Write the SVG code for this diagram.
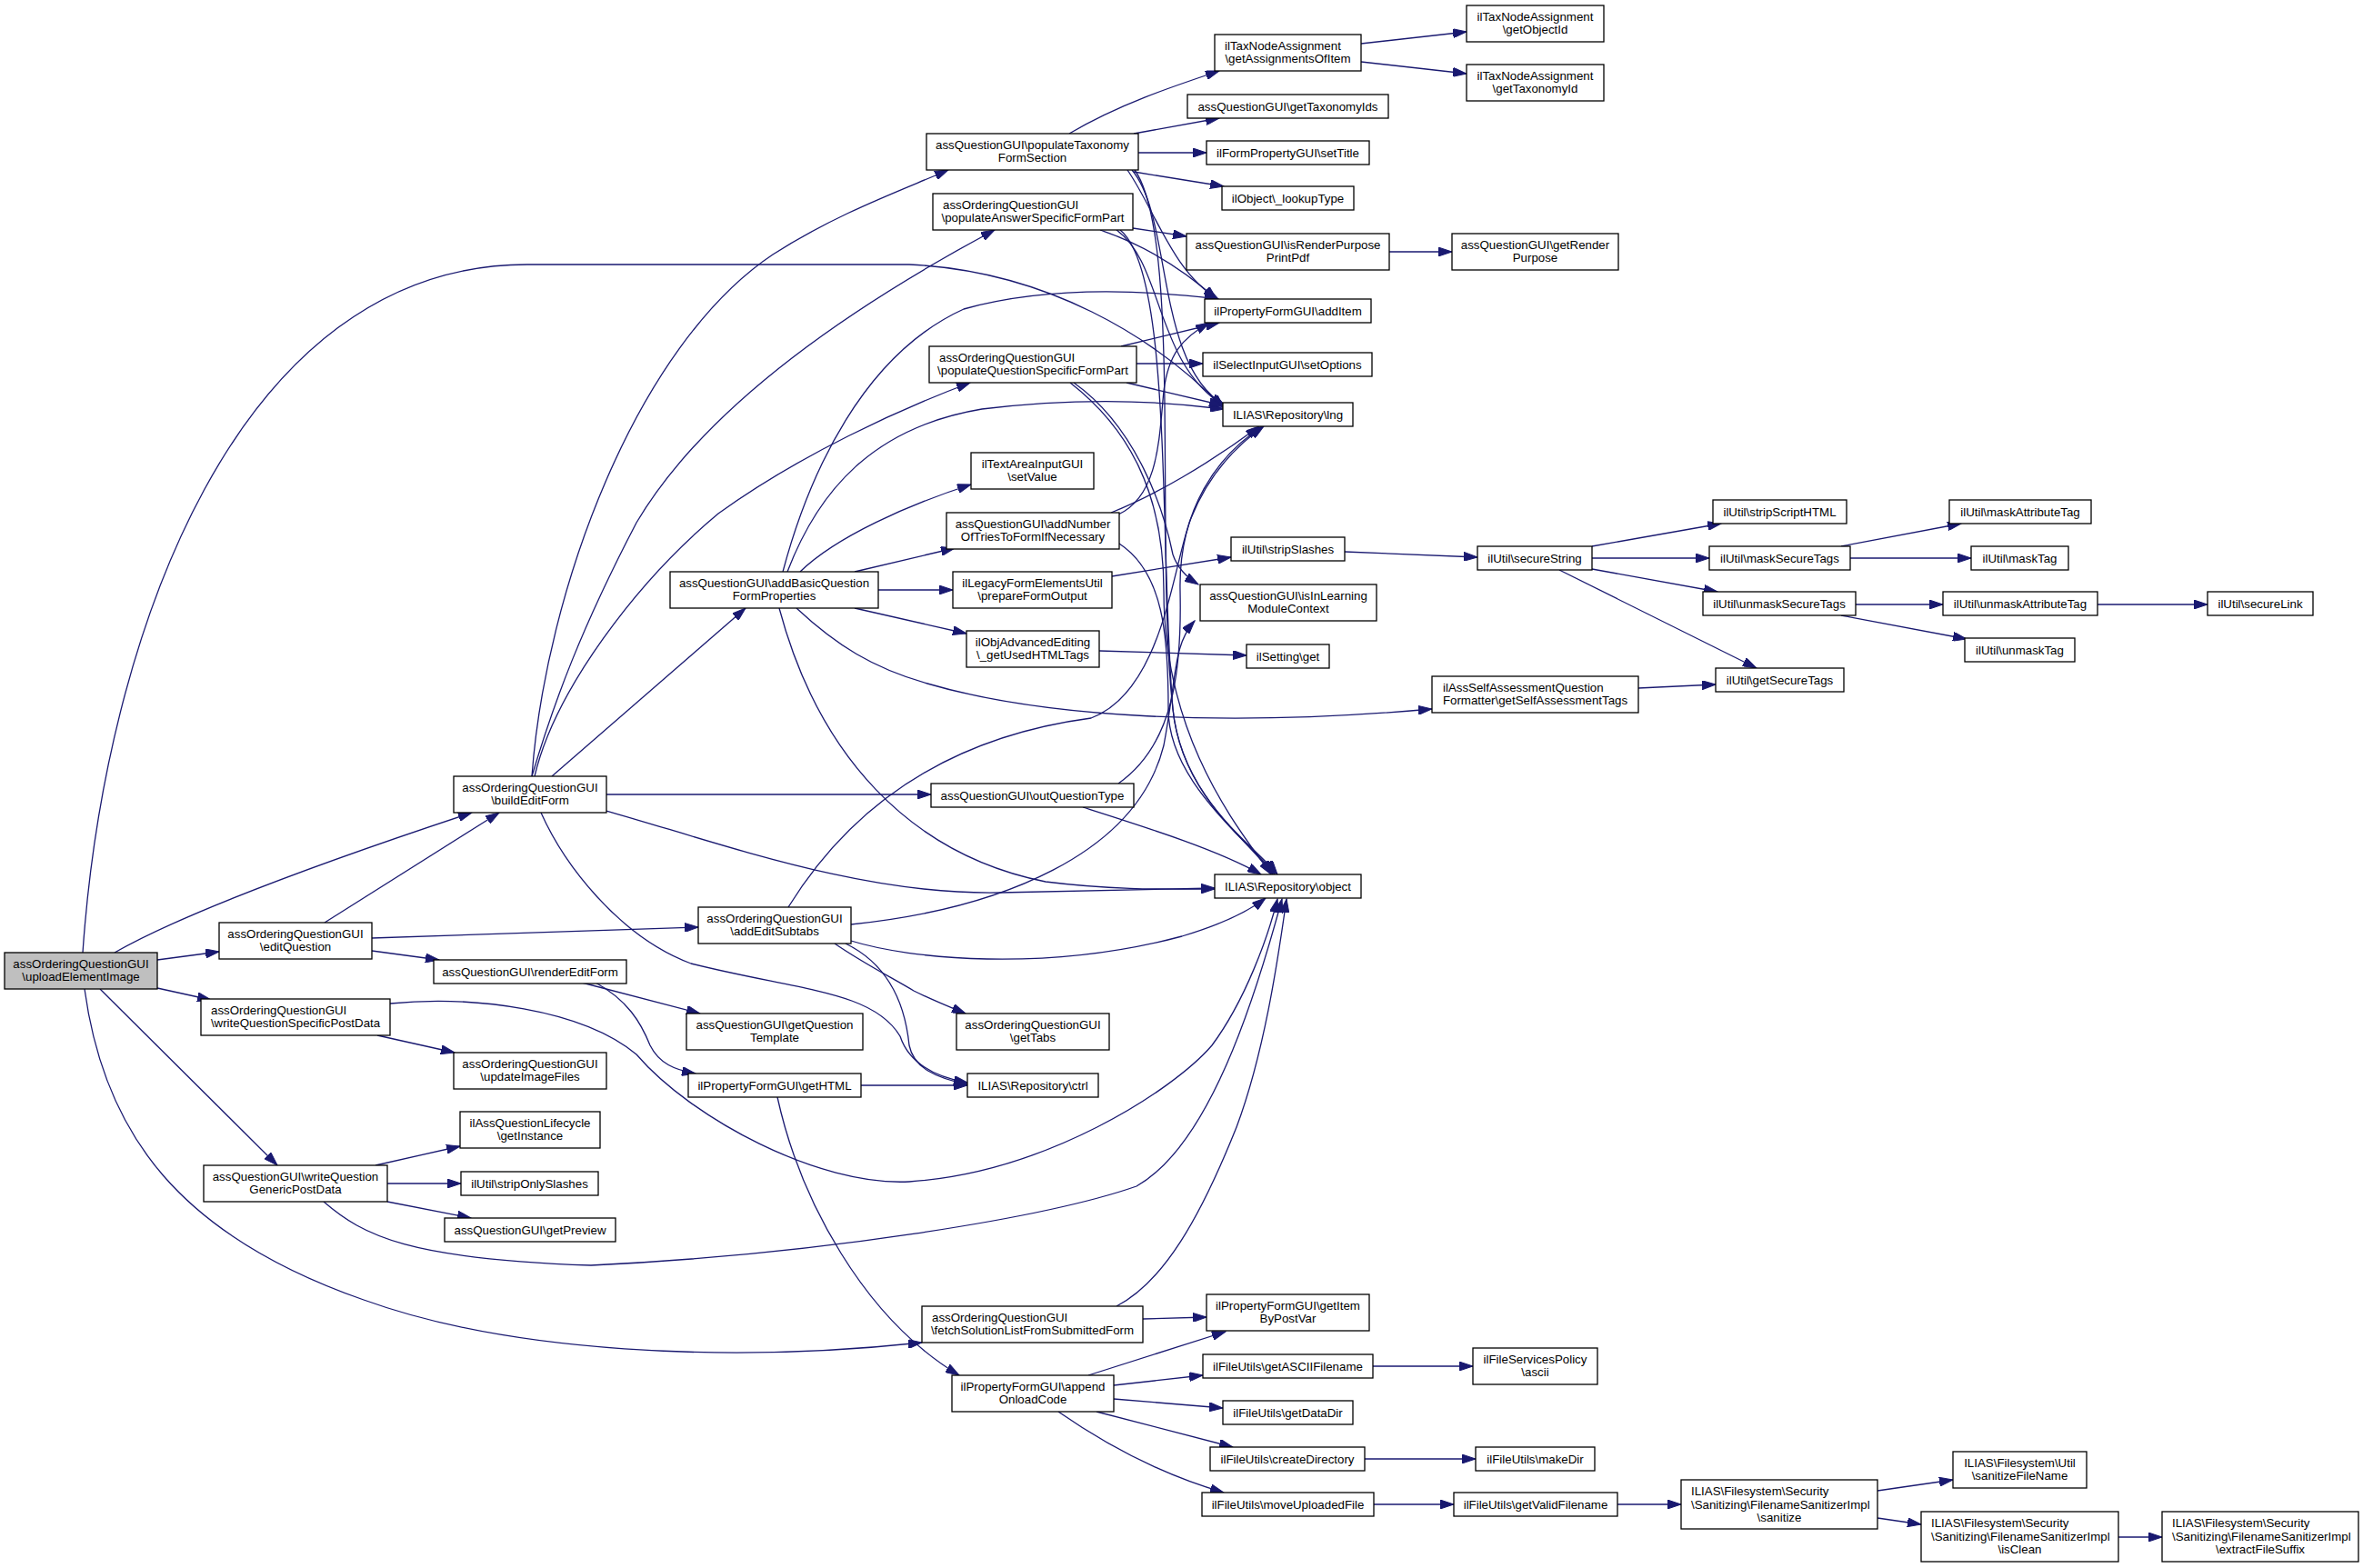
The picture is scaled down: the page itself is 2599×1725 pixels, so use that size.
<svg xmlns="http://www.w3.org/2000/svg" width="2599" height="1725" viewBox="0 0 2599 1725">
<defs>
<marker id="ah" markerUnits="userSpaceOnUse" markerWidth="16" markerHeight="10" refX="15" refY="5" orient="auto"><path d="M0,0 L15,5 L0,10 z" fill="#191970" stroke="#191970" stroke-width="1"/></marker>
</defs>
<style>
.n rect{fill:#fff;stroke:#000;stroke-width:1.3}
.root rect{fill:#bfbfbf}
text{font-family:"Liberation Sans",Arial,sans-serif;font-size:13.3px;fill:#000}
.c{text-anchor:middle}
.e path{fill:none;stroke:#191970;stroke-width:1.3;marker-end:url(#ah)}
</style>
<rect x="0" y="0" width="2599" height="1725" fill="#fff"/>
<g id="edges" class="e">
<path d="M126,1048 C210,1000 380,940 519,894"/>
<path d="M173,1056 L241,1047"/>
<path d="M173,1087 L232,1100"/>
<path d="M110,1088 L305,1282"/>
<path d="M93,1088 C115,1250 200,1360 400,1430 C560,1488 800,1500 1014,1477"/>
<path d="M91,1048 C115,700 260,291 580,291 L1000,291 C1150,298 1270,370 1346,449"/>
<path d="M357,1015 L549,894"/>
<path d="M409,1032 L768,1020"/>
<path d="M409,1046 L483,1056"/>
<path d="M640,1081 L770,1115"/>
<path d="M655,1081 C690,1100 705,1125 715,1150 C725,1170 742,1177 765,1181"/>
<path d="M947,1194 L1064,1194"/>
<path d="M595,894 C620,950 680,1030 760,1060 C880,1090 960,1090 990,1140 C1000,1170 1030,1185 1064,1191"/>
<path d="M930,1038 C975,1060 995,1100 1000,1150 C1005,1175 1030,1186 1064,1193"/>
<path d="M918,1038 C950,1060 980,1075 1005,1090 C1025,1100 1045,1108 1062,1115"/>
<path d="M936,1035 C1000,1055 1150,1070 1300,1030 C1340,1018 1370,1005 1392,988"/>
<path d="M867,998 C940,880 1050,810 1200,790 C1280,760 1290,620 1310,570 C1330,520 1360,490 1390,469"/>
<path d="M936,1017 C1100,1000 1250,940 1280,820 C1295,740 1290,710 1314,683"/>
<path d="M667,874 L1024,874"/>
<path d="M667,892 C800,930 950,985 1100,982 C1200,980 1280,978 1336,977"/>
<path d="M585,854 C600,650 700,380 850,280 C920,235 990,210 1043,187"/>
<path d="M585,854 C610,770 640,690 700,575 C780,440 950,330 1094,253"/>
<path d="M588,854 C610,760 700,640 790,565 C880,500 990,450 1067,421"/>
<path d="M607,854 L820,669"/>
<path d="M861,629 C890,520 950,390 1060,340 C1150,315 1250,318 1340,329"/>
<path d="M866,629 C900,540 960,470 1080,450 C1180,438 1270,440 1346,450"/>
<path d="M880,629 C920,590 1000,555 1068,533"/>
<path d="M940,629 L1050,603"/>
<path d="M966,649 L1048,649"/>
<path d="M940,669 L1063,697"/>
<path d="M876,669 C920,710 960,735 1020,752 C1150,790 1350,800 1575,780"/>
<path d="M857,669 C900,830 1000,940 1150,970 C1230,980 1290,978 1336,978"/>
<path d="M1222,564 C1270,545 1330,510 1385,469"/>
<path d="M1230,566 C1275,545 1275,480 1280,430 C1285,390 1300,372 1330,355"/>
<path d="M1231,598 C1280,630 1285,700 1285,780 C1285,860 1370,920 1400,962"/>
<path d="M1176,147 C1230,115 1290,95 1341,78"/>
<path d="M1247,147 L1341,130"/>
<path d="M1252,168 L1327,168"/>
<path d="M1247,189 L1346,205"/>
<path d="M1240,187 C1270,230 1290,300 1340,329"/>
<path d="M1245,187 C1290,240 1270,400 1347,446"/>
<path d="M1248,187 C1300,260 1270,600 1290,780 C1300,880 1380,930 1405,962"/>
<path d="M1246,251 L1305,260"/>
<path d="M1210,253 C1260,270 1300,295 1338,329"/>
<path d="M1228,253 C1280,290 1270,400 1347,447"/>
<path d="M1232,253 C1290,300 1275,600 1290,780 C1300,880 1385,935 1402,962"/>
<path d="M1250,400 L1323,400"/>
<path d="M1233,381 L1341,355"/>
<path d="M1239,421 L1345,446"/>
<path d="M1177,421 C1240,470 1280,540 1280,650 C1280,820 1370,920 1398,962"/>
<path d="M1181,421 C1250,470 1280,560 1290,610 C1295,625 1305,635 1318,643"/>
<path d="M1223,634 L1354,613"/>
<path d="M1209,716 L1371,721"/>
<path d="M1191,888 C1260,910 1340,935 1387,962"/>
<path d="M1230,862 C1290,820 1300,740 1298,650 C1296,560 1340,500 1389,469"/>
<path d="M1479,607 L1625,613"/>
<path d="M1751,601 L1893,576"/>
<path d="M1751,614 L1880,614"/>
<path d="M1751,626 L1889,651"/>
<path d="M1715,627 L1932,735"/>
<path d="M1802,757 L1887,753"/>
<path d="M2025,601 L2157,576"/>
<path d="M2035,614 L2168,614"/>
<path d="M2041,665 L2137,665"/>
<path d="M2025,677 L2163,703"/>
<path d="M2307,665 L2428,665"/>
<path d="M1497,48 L1613,35"/>
<path d="M1497,68 L1613,81"/>
<path d="M1528,277 L1597,277"/>
<path d="M415,1139 L500,1158"/>
<path d="M429,1104 C520,1095 640,1110 700,1160 C760,1230 900,1305 1000,1300 C1150,1290 1290,1200 1333,1150 C1370,1100 1395,1030 1405,989"/>
<path d="M413,1282 L506,1261"/>
<path d="M426,1302 L507,1302"/>
<path d="M426,1322 L518,1340"/>
<path d="M356,1322 C400,1360 450,1385 650,1392 C900,1380 1150,1340 1250,1305 C1330,1260 1380,1100 1410,989"/>
<path d="M1228,1437 C1280,1410 1320,1340 1360,1240 C1390,1160 1405,1060 1415,989"/>
<path d="M1257,1451 L1327,1449"/>
<path d="M855,1207 C880,1320 950,1450 1055,1513"/>
<path d="M1197,1513 L1348,1465"/>
<path d="M1225,1524 L1323,1513"/>
<path d="M1225,1539 L1345,1549"/>
<path d="M1206,1553 L1356,1592"/>
<path d="M1164,1553 C1210,1585 1270,1620 1346,1642"/>
<path d="M1510,1503 L1620,1503"/>
<path d="M1501,1605 L1623,1605"/>
<path d="M1511,1655 L1599,1655"/>
<path d="M1779,1655 L1849,1655"/>
<path d="M2065,1640 L2148,1628"/>
<path d="M2065,1670 L2113,1677"/>
<path d="M2330,1691 L2378,1691"/>
</g>
<g id="n_main" class="n root"><rect x="5" y="1048" width="168" height="40"/><text class="c" x="89" y="1064.5">assOrderingQuestionGUI</text><text class="c" x="89" y="1079">\uploadElementImage</text></g>
<g id="n_editQuestion" class="n"><rect x="241" y="1015" width="168" height="40"/><text class="c" x="325" y="1031.5">assOrderingQuestionGUI</text><text class="c" x="325" y="1046">\editQuestion</text></g>
<g id="n_buildEditForm" class="n"><rect x="499" y="854" width="168" height="40"/><text class="c" x="583" y="870.5">assOrderingQuestionGUI</text><text class="c" x="583" y="885">\buildEditForm</text></g>
<g id="n_writeSpecific" class="n"><rect x="221" y="1099" width="208" height="40"/><text x="232" y="1115.5">assOrderingQuestionGUI</text><text class="c" x="325" y="1130">\writeQuestionSpecificPostData</text></g>
<g id="n_writeGeneric" class="n"><rect x="224" y="1282" width="202" height="40"/><text class="c" x="325" y="1298.5">assQuestionGUI\writeQuestion</text><text class="c" x="325" y="1313">GenericPostData</text></g>
<g id="n_updateImageFiles" class="n"><rect x="499" y="1158" width="168" height="40"/><text class="c" x="583" y="1174.5">assOrderingQuestionGUI</text><text class="c" x="583" y="1189">\updateImageFiles</text></g>
<g id="n_getInstance" class="n"><rect x="506" y="1223" width="154" height="40"/><text class="c" x="583" y="1239.5">ilAssQuestionLifecycle</text><text class="c" x="583" y="1254">\getInstance</text></g>
<g id="n_stripOnlySlashes" class="n"><rect x="507" y="1289" width="151" height="26"/><text class="c" x="582.5" y="1306.5">ilUtil\stripOnlySlashes</text></g>
<g id="n_getPreview" class="n"><rect x="489" y="1340" width="188" height="26"/><text class="c" x="583" y="1357.5">assQuestionGUI\getPreview</text></g>
<g id="n_renderEditForm" class="n"><rect x="477" y="1056" width="212" height="26"/><text class="c" x="583" y="1073.5">assQuestionGUI\renderEditForm</text></g>
<g id="n_getQuestionTemplate" class="n"><rect x="755" y="1115" width="194" height="40"/><text class="c" x="852" y="1131.5">assQuestionGUI\getQuestion</text><text class="c" x="852" y="1146">Template</text></g>
<g id="n_getTabs" class="n"><rect x="1052" y="1115" width="168" height="40"/><text class="c" x="1136" y="1131.5">assOrderingQuestionGUI</text><text class="c" x="1136" y="1146">\getTabs</text></g>
<g id="n_getHTML" class="n"><rect x="757" y="1181" width="190" height="26"/><text class="c" x="852" y="1198.5">ilPropertyFormGUI\getHTML</text></g>
<g id="n_ctrl" class="n"><rect x="1064" y="1181" width="144" height="26"/><text class="c" x="1136" y="1198.5">ILIAS\Repository\ctrl</text></g>
<g id="n_addEditSubtabs" class="n"><rect x="768" y="998" width="168" height="40"/><text class="c" x="852" y="1014.5">assOrderingQuestionGUI</text><text class="c" x="852" y="1029">\addEditSubtabs</text></g>
<g id="n_outQuestionType" class="n"><rect x="1024" y="862" width="223" height="26"/><text class="c" x="1135.5" y="879.5">assQuestionGUI\outQuestionType</text></g>
<g id="n_addBasic" class="n"><rect x="737" y="629" width="229" height="40"/><text class="c" x="851.5" y="645.5">assQuestionGUI\addBasicQuestion</text><text class="c" x="851.5" y="660">FormProperties</text></g>
<g id="n_prepareFormOutput" class="n"><rect x="1048" y="629" width="175" height="40"/><text class="c" x="1135.5" y="645.5">ilLegacyFormElementsUtil</text><text class="c" x="1135.5" y="660">\prepareFormOutput</text></g>
<g id="n_getUsedHTMLTags" class="n"><rect x="1063" y="694" width="146" height="40"/><text class="c" x="1136" y="710.5">ilObjAdvancedEditing</text><text class="c" x="1136" y="725">\_getUsedHTMLTags</text></g>
<g id="n_addNumberOfTries" class="n"><rect x="1041" y="564" width="190" height="40"/><text class="c" x="1136" y="580.5">assQuestionGUI\addNumber</text><text class="c" x="1136" y="595">OfTriesToFormIfNecessary</text></g>
<g id="n_setValue" class="n"><rect x="1068" y="498" width="135" height="40"/><text class="c" x="1135.5" y="514.5">ilTextAreaInputGUI</text><text class="c" x="1135.5" y="529">\setValue</text></g>
<g id="n_populateTaxonomy" class="n"><rect x="1019" y="147" width="233" height="40"/><text class="c" x="1135.5" y="163.5">assQuestionGUI\populateTaxonomy</text><text class="c" x="1135.5" y="178">FormSection</text></g>
<g id="n_populateAnswer" class="n"><rect x="1026" y="213" width="220" height="40"/><text x="1037" y="229.5">assOrderingQuestionGUI</text><text class="c" x="1136" y="244">\populateAnswerSpecificFormPart</text></g>
<g id="n_populateQuestion" class="n"><rect x="1022" y="381" width="228" height="40"/><text x="1033" y="397.5">assOrderingQuestionGUI</text><text class="c" x="1136" y="412">\populateQuestionSpecificFormPart</text></g>
<g id="n_getAssignmentsOfItem" class="n"><rect x="1336" y="38" width="161" height="40"/><text x="1347" y="54.5">ilTaxNodeAssignment</text><text class="c" x="1416.5" y="69">\getAssignmentsOfItem</text></g>
<g id="n_getObjectId" class="n"><rect x="1613" y="6" width="151" height="40"/><text class="c" x="1688.5" y="22.5">ilTaxNodeAssignment</text><text class="c" x="1688.5" y="37">\getObjectId</text></g>
<g id="n_getTaxonomyId" class="n"><rect x="1613" y="71" width="151" height="40"/><text class="c" x="1688.5" y="87.5">ilTaxNodeAssignment</text><text class="c" x="1688.5" y="102">\getTaxonomyId</text></g>
<g id="n_getTaxonomyIds" class="n"><rect x="1306" y="104" width="221" height="26"/><text class="c" x="1416.5" y="121.5">assQuestionGUI\getTaxonomyIds</text></g>
<g id="n_setTitle" class="n"><rect x="1327" y="155" width="179" height="26"/><text class="c" x="1416.5" y="172.5">ilFormPropertyGUI\setTitle</text></g>
<g id="n_lookupType" class="n"><rect x="1344" y="205" width="145" height="26"/><text class="c" x="1416.5" y="222.5">ilObject\_lookupType</text></g>
<g id="n_isRenderPurpose" class="n"><rect x="1305" y="257" width="223" height="40"/><text class="c" x="1416.5" y="273.5">assQuestionGUI\isRenderPurpose</text><text class="c" x="1416.5" y="288">PrintPdf</text></g>
<g id="n_getRenderPurpose" class="n"><rect x="1597" y="257" width="183" height="40"/><text class="c" x="1688.5" y="273.5">assQuestionGUI\getRender</text><text class="c" x="1688.5" y="288">Purpose</text></g>
<g id="n_addItem" class="n"><rect x="1325" y="329" width="183" height="26"/><text class="c" x="1416.5" y="346.5">ilPropertyFormGUI\addItem</text></g>
<g id="n_setOptions" class="n"><rect x="1323" y="388" width="186" height="26"/><text class="c" x="1416" y="405.5">ilSelectInputGUI\setOptions</text></g>
<g id="n_lng" class="n"><rect x="1345" y="443" width="143" height="26"/><text class="c" x="1416.5" y="460.5">ILIAS\Repository\lng</text></g>
<g id="n_stripSlashes" class="n"><rect x="1354" y="591" width="125" height="26"/><text class="c" x="1416.5" y="608.5">ilUtil\stripSlashes</text></g>
<g id="n_isInLearning" class="n"><rect x="1320" y="643" width="194" height="40"/><text class="c" x="1417" y="659.5">assQuestionGUI\isInLearning</text><text class="c" x="1417" y="674">ModuleContext</text></g>
<g id="n_ilSettingGet" class="n"><rect x="1371" y="709" width="91" height="26"/><text class="c" x="1416.5" y="726.5">ilSetting\get</text></g>
<g id="n_secureString" class="n"><rect x="1625" y="601" width="126" height="26"/><text class="c" x="1688" y="618.5">ilUtil\secureString</text></g>
<g id="n_getSelfAssessmentTags" class="n"><rect x="1575" y="744" width="227" height="40"/><text x="1587" y="760.5">ilAssSelfAssessmentQuestion</text><text class="c" x="1688.5" y="775">Formatter\getSelfAssessmentTags</text></g>
<g id="n_object" class="n"><rect x="1336" y="962" width="161" height="26"/><text class="c" x="1416.5" y="979.5">ILIAS\Repository\object</text></g>
<g id="n_stripScriptHTML" class="n"><rect x="1884" y="550" width="147" height="26"/><text class="c" x="1957.5" y="567.5">ilUtil\stripScriptHTML</text></g>
<g id="n_maskAttributeTag" class="n"><rect x="2144" y="550" width="156" height="26"/><text class="c" x="2222" y="567.5">ilUtil\maskAttributeTag</text></g>
<g id="n_maskSecureTags" class="n"><rect x="1880" y="601" width="155" height="26"/><text class="c" x="1957.5" y="618.5">ilUtil\maskSecureTags</text></g>
<g id="n_maskTag" class="n"><rect x="2168" y="601" width="107" height="26"/><text class="c" x="2221.5" y="618.5">ilUtil\maskTag</text></g>
<g id="n_unmaskSecureTags" class="n"><rect x="1873" y="651" width="168" height="26"/><text class="c" x="1957" y="668.5">ilUtil\unmaskSecureTags</text></g>
<g id="n_unmaskAttributeTag" class="n"><rect x="2137" y="651" width="170" height="26"/><text class="c" x="2222" y="668.5">ilUtil\unmaskAttributeTag</text></g>
<g id="n_secureLink" class="n"><rect x="2428" y="651" width="116" height="26"/><text class="c" x="2486" y="668.5">ilUtil\secureLink</text></g>
<g id="n_unmaskTag" class="n"><rect x="2161" y="702" width="121" height="26"/><text class="c" x="2221.5" y="719.5">ilUtil\unmaskTag</text></g>
<g id="n_getSecureTags" class="n"><rect x="1887" y="735" width="141" height="26"/><text class="c" x="1957.5" y="752.5">ilUtil\getSecureTags</text></g>
<g id="n_getItemByPostVar" class="n"><rect x="1327" y="1424" width="179" height="40"/><text class="c" x="1416.5" y="1440.5">ilPropertyFormGUI\getItem</text><text class="c" x="1416.5" y="1455">ByPostVar</text></g>
<g id="n_getASCIIFilename" class="n"><rect x="1323" y="1490" width="187" height="26"/><text class="c" x="1416.5" y="1507.5">ilFileUtils\getASCIIFilename</text></g>
<g id="n_ascii" class="n"><rect x="1620" y="1483" width="137" height="40"/><text class="c" x="1688.5" y="1499.5">ilFileServicesPolicy</text><text class="c" x="1688.5" y="1514">\ascii</text></g>
<g id="n_getDataDir" class="n"><rect x="1345" y="1541" width="143" height="26"/><text class="c" x="1416.5" y="1558.5">ilFileUtils\getDataDir</text></g>
<g id="n_createDirectory" class="n"><rect x="1331" y="1592" width="170" height="26"/><text class="c" x="1416" y="1609.5">ilFileUtils\createDirectory</text></g>
<g id="n_makeDir" class="n"><rect x="1623" y="1592" width="131" height="26"/><text class="c" x="1688.5" y="1609.5">ilFileUtils\makeDir</text></g>
<g id="n_moveUploadedFile" class="n"><rect x="1322" y="1642" width="189" height="26"/><text class="c" x="1416.5" y="1659.5">ilFileUtils\moveUploadedFile</text></g>
<g id="n_getValidFilename" class="n"><rect x="1599" y="1642" width="180" height="26"/><text class="c" x="1689" y="1659.5">ilFileUtils\getValidFilename</text></g>
<g id="n_sanitize" class="n"><rect x="1849" y="1628" width="216" height="54"/><text x="1860" y="1645">ILIAS\Filesystem\Security</text><text x="1860" y="1659.5">\Sanitizing\FilenameSanitizerImpl</text><text class="c" x="1957" y="1674">\sanitize</text></g>
<g id="n_sanitizeFileName" class="n"><rect x="2148" y="1597" width="147" height="40"/><text class="c" x="2221.5" y="1613.5">ILIAS\Filesystem\Util</text><text class="c" x="2221.5" y="1628">\sanitizeFileName</text></g>
<g id="n_isClean" class="n"><rect x="2113" y="1663" width="217" height="55"/><text x="2124" y="1680">ILIAS\Filesystem\Security</text><text x="2124" y="1694.5">\Sanitizing\FilenameSanitizerImpl</text><text class="c" x="2221.5" y="1708.5">\isClean</text></g>
<g id="n_extractFileSuffix" class="n"><rect x="2378" y="1663" width="216" height="55"/><text x="2389" y="1680">ILIAS\Filesystem\Security</text><text x="2389" y="1694.5">\Sanitizing\FilenameSanitizerImpl</text><text class="c" x="2486" y="1708.5">\extractFileSuffix</text></g>
<g id="n_fetchSolutionList" class="n"><rect x="1014" y="1437" width="243" height="40"/><text x="1025" y="1453.5">assOrderingQuestionGUI</text><text class="c" x="1135.5" y="1468">\fetchSolutionListFromSubmittedForm</text></g>
<g id="n_appendOnloadCode" class="n"><rect x="1047" y="1513" width="178" height="40"/><text class="c" x="1136" y="1529.5">ilPropertyFormGUI\append</text><text class="c" x="1136" y="1544">OnloadCode</text></g>
</svg>
